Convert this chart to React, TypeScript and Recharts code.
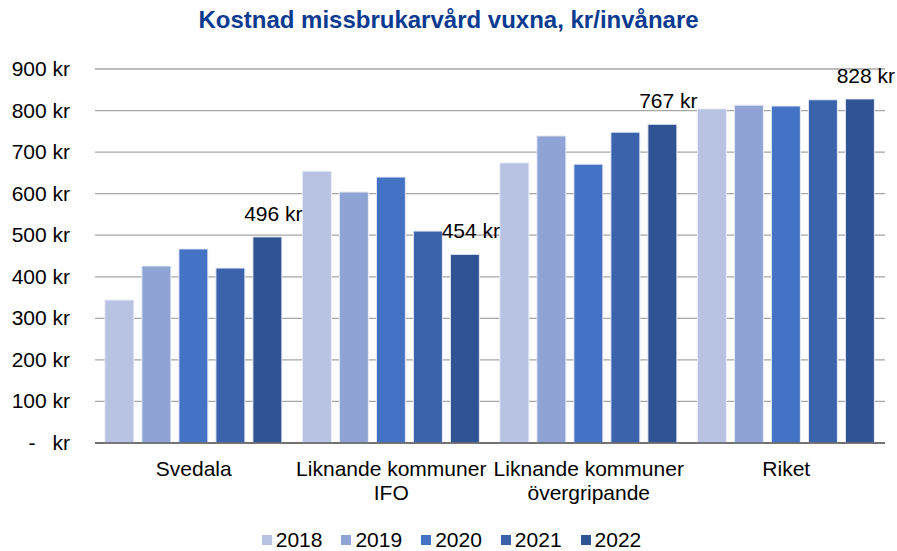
import React from 'react'
import { BarChart, Bar, XAxis, YAxis, CartesianGrid, Legend, LabelList } from 'recharts'

const categories = ['Svedala', 'Liknande kommuner IFO', 'Liknande kommuner övergripande', 'Riket']
const categoryLines: string[][] = [
  ['Svedala'],
  ['Liknande kommuner', 'IFO'],
  ['Liknande kommuner', 'övergripande'],
  ['Riket'],
]
const years = ['2018', '2019', '2020', '2021', '2022']
const v2018 = [344, 654, 674, 804]
const v2019 = [426, 604, 739, 813]
const v2020 = [467, 640, 671, 811]
const v2021 = [421, 510, 748, 826]
const v2022 = [496, 454, 767, 828]
const yTicks = [0, 100, 200, 300, 400, 500, 600, 700, 800, 900]

const COLORS = ['#B8C3E3', '#8FA4D5', '#4472C4', '#3A63AC', '#305394']
const FONT = '"Liberation Sans", Arial, sans-serif'
const FS = 21

const seriesValues = [v2018, v2019, v2020, v2021, v2022]
const data = categories.map((name, i) => {
  const row: Record<string, any> = { name }
  years.forEach((y, k) => {
    row[y] = seriesValues[k][i]
  })
  return row
})

const YTick = ({ x, y, payload }: any) => {
  if (payload.value === 0) {
    return (
      <g>
        <text x={32} y={y} dy={7} textAnchor="middle" fontSize={FS} fontFamily={FONT} fill="#000">-</text>
        <text x={x} y={y} dy={7} textAnchor="end" fontSize={FS} fontFamily={FONT} fill="#000">kr</text>
      </g>
    )
  }
  return (
    <text x={x} y={y} dy={7} textAnchor="end" fontSize={FS} fontFamily={FONT} fill="#000">
      {payload.value} kr
    </text>
  )
}

const XTick = ({ x, y, payload, index }: any) => {
  const lines = categoryLines[index] || [payload.value]
  return (
    <g>
      {lines.map((l, i) => (
        <text key={i} x={x} y={y + 25 + i * 24} textAnchor="middle" fontSize={FS} fontFamily={FONT} fill="#000">
          {l}
        </text>
      ))}
    </g>
  )
}

const EndLabel = ({ x, y, width, value }: any) => (
  <text x={x + width / 2 + 6} y={y - 16} textAnchor="middle" fontSize={FS} fontFamily={FONT} fill="#000">
    {value} kr
  </text>
)

const renderLegend = () => (
  <div style={{ display: 'flex', justifyContent: 'center', gap: 19, fontFamily: FONT, fontSize: FS, lineHeight: '20px', color: '#000', paddingLeft: 18, paddingTop: 7 }}>
    {years.map((y, i) => (
      <div key={y} style={{ display: 'flex', alignItems: 'center', gap: 4 }}>
        <div style={{ width: 10, height: 10, backgroundColor: COLORS[i] }} />
        <span>{y}</span>
      </div>
    ))}
  </div>
)

export default function App() {
  return (
    <div style={{ position: 'absolute', left: 0, top: 0, width: 897, height: 551, background: '#fff' }}>
      <div
        style={{
          position: 'absolute',
          top: 6,
          left: 0,
          width: 897,
          textAlign: 'center',
          fontFamily: FONT,
          fontWeight: 'bold',
          fontSize: 24,
          color: '#0B3B91',
        }}
      >
        Kostnad missbrukarvård vuxna, kr/invånare
      </div>
      <BarChart
        width={897}
        height={551}
        data={data}
        margin={{ top: 69, right: 12, left: 0, bottom: 0 }}
        barCategoryGap="5%"
        barGap={8}
      >
        <CartesianGrid vertical={false} stroke="#A6A6A6" strokeWidth={1.3} />
        <XAxis
          dataKey="name"
          tick={<XTick />}
          tickLine={false}
          axisLine={{ stroke: '#595959', strokeWidth: 1.3 }}
          height={80}
          interval={0}
        />
        <YAxis
          domain={[0, 900]}
          ticks={yTicks}
          tick={<YTick />}
          tickLine={false}
          axisLine={false}
          width={95}
          tickMargin={19}
        />
        <Legend content={renderLegend} verticalAlign="bottom" height={28} />
        {years.map((y, i) => (
          <Bar key={y} dataKey={y} fill={COLORS[i]} stroke="#E8ECF6" strokeWidth={1} isAnimationActive={false}>
            {i === years.length - 1 && <LabelList dataKey={y} content={<EndLabel />} />}
          </Bar>
        ))}
      </BarChart>
    </div>
  )
}
